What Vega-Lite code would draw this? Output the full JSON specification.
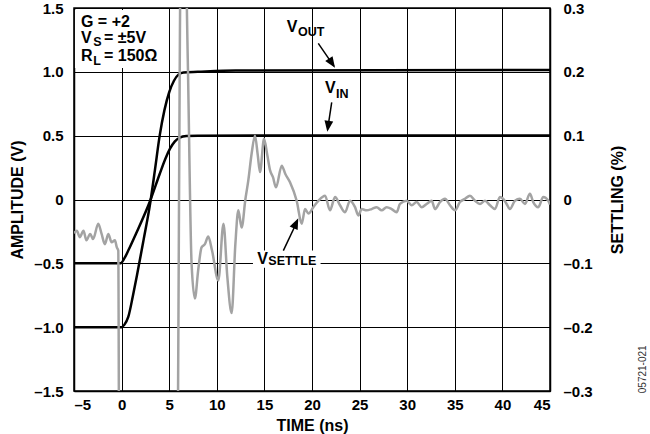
{
  "$schema": "https://vega.github.io/schema/vega-lite/v6.json",
  "width": 476,
  "height": 383,
  "autosize": {"type": "none"},
  "padding": {"left": 74, "top": 8, "right": 100, "bottom": 43},
  "background": "white",
  "config": {
    "font": "Liberation Sans",
    "view": {"stroke": "black", "strokeWidth": 1.5},
    "axis": {
      "labelFont": "Liberation Sans", "labelFontWeight": "bold", "labelFontSize": 15, "labelColor": "black",
      "titleFont": "Liberation Sans", "titleFontWeight": "bold", "titleFontSize": 16, "titleColor": "black",
      "domainColor": "black", "domainWidth": 1.5, "ticks": false, "tickSize": 0,
      "gridColor": "black", "gridWidth": 1, "gridOpacity": 1
    },
    "text": {"font": "Liberation Sans", "fontWeight": "bold", "color": "black"}
  },
  "layer": [
    {
      "layer": [
        {
          "data": {"values": [
            {"series": "VOUT", "t": -5, "v": -1.0}, {"series": "VOUT", "t": 0, "v": -1.0}, {"series": "VOUT", "t": 0.3, "v": -0.98},
            {"series": "VOUT", "t": 0.7, "v": -0.92}, {"series": "VOUT", "t": 1.2, "v": -0.75}, {"series": "VOUT", "t": 1.6, "v": -0.6},
            {"series": "VOUT", "t": 2.3, "v": -0.32}, {"series": "VOUT", "t": 3.0, "v": -0.03}, {"series": "VOUT", "t": 3.5, "v": 0.23},
            {"series": "VOUT", "t": 4.0, "v": 0.5}, {"series": "VOUT", "t": 4.5, "v": 0.7}, {"series": "VOUT", "t": 5.0, "v": 0.84},
            {"series": "VOUT", "t": 5.5, "v": 0.93}, {"series": "VOUT", "t": 6.0, "v": 0.98}, {"series": "VOUT", "t": 6.5, "v": 0.995},
            {"series": "VOUT", "t": 8, "v": 1.0}, {"series": "VOUT", "t": 12, "v": 1.01}, {"series": "VOUT", "t": 45, "v": 1.015},
            {"series": "VIN", "t": -5, "v": -0.5}, {"series": "VIN", "t": -0.1, "v": -0.5}, {"series": "VIN", "t": 0.3, "v": -0.46},
            {"series": "VIN", "t": 0.7, "v": -0.4}, {"series": "VIN", "t": 1.5, "v": -0.27}, {"series": "VIN", "t": 3.0, "v": -0.01},
            {"series": "VIN", "t": 4.0, "v": 0.2}, {"series": "VIN", "t": 4.6, "v": 0.32}, {"series": "VIN", "t": 5.1, "v": 0.4},
            {"series": "VIN", "t": 5.6, "v": 0.455}, {"series": "VIN", "t": 6.1, "v": 0.485}, {"series": "VIN", "t": 6.8, "v": 0.497},
            {"series": "VIN", "t": 8, "v": 0.5}, {"series": "VIN", "t": 45, "v": 0.502}
          ]},
          "mark": {"type": "line", "color": "black", "strokeWidth": 2.5, "interpolate": "monotone"},
          "encoding": {
            "x": {"field": "t", "type": "quantitative", "scale": {"domain": [-5, 45], "nice": false},
              "axis": {"values": [-5, 0, 5, 10, 15, 20, 25, 30, 35, 40, 45], "grid": true, "title": "TIME (ns)",
                "labelExpr": "datum.value < 0 ? '–' + format(-datum.value, 'd') : format(datum.value, 'd')",
                "labelPadding": 6, "titlePadding": 5}},
            "y": {"field": "v", "type": "quantitative", "scale": {"domain": [-1.5, 1.5], "nice": false},
              "axis": {"values": [-1.5, -1.0, -0.5, 0, 0.5, 1.0, 1.5], "grid": true, "title": "AMPLITUDE (V)",
                "labelExpr": "datum.value == 0 ? '0' : (datum.value < 0 ? '–' + format(-datum.value, '.1f') : format(datum.value, '.1f'))",
                "labelPadding": 11, "titlePadding": 8}},
            "detail": {"field": "series"}
          }
        },
        {
          "data": {"values": [{"t": -4.9, "t2": 4.5, "v": 1.03, "v2": 1.485}, {"t": 13.8, "t2": 20.9, "v": -0.4, "v2": -0.535}]},
          "mark": {"type": "rect", "fill": "white"},
          "encoding": {
            "x": {"field": "t", "type": "quantitative"}, "x2": {"field": "t2"},
            "y": {"field": "v", "type": "quantitative"}, "y2": {"field": "v2"}
          }
        },
        {
          "data": {"values": [
            {"label": "G = +2", "t": -4.27, "v": 1.351},
            {"label": "V", "t": -4.27, "v": 1.226},
            {"label": "= ±5V", "t": -1.85, "v": 1.226},
            {"label": "R", "t": -4.27, "v": 1.085},
            {"label": "= 150Ω", "t": -1.85, "v": 1.085},
            {"label": "V", "t": 17.34, "v": 1.31},
            {"label": "V", "t": 21.37, "v": 0.832},
            {"label": "V", "t": 14.25, "v": -0.505}
          ]},
          "mark": {"type": "text", "align": "left", "baseline": "alphabetic", "fontSize": 16},
          "encoding": {
            "x": {"field": "t", "type": "quantitative"},
            "y": {"field": "v", "type": "quantitative"},
            "text": {"field": "label"}
          }
        },
        {
          "data": {"values": [
            {"label": "S", "t": -2.98, "v": 1.2},
            {"label": "L", "t": -2.98, "v": 1.055},
            {"label": "OUT", "t": 18.53, "v": 1.283},
            {"label": "IN", "t": 22.53, "v": 0.793},
            {"label": "SETTLE", "t": 15.41, "v": -0.513}
          ]},
          "mark": {"type": "text", "align": "left", "baseline": "alphabetic", "fontSize": 12.5},
          "encoding": {
            "x": {"field": "t", "type": "quantitative"},
            "y": {"field": "v", "type": "quantitative"},
            "text": {"field": "label"}
          }
        },
        {
          "data": {"values": [
            {"arrow": "VOUT", "t": 20.66, "v": 1.223, "t2": 22.3, "v2": 1.045},
            {"arrow": "VIN", "t": 22.07, "v": 0.761, "t2": 21.64, "v2": 0.55},
            {"arrow": "VSETTLE", "t": 16.99, "v": -0.401, "t2": 18.45, "v2": -0.17}
          ]},
          "mark": {"type": "rule", "color": "black", "strokeWidth": 1.5},
          "encoding": {
            "x": {"field": "t", "type": "quantitative"}, "x2": {"field": "t2"},
            "y": {"field": "v", "type": "quantitative"}, "y2": {"field": "v2"}
          }
        },
        {
          "data": {"values": [
            {"arrow": "VOUT", "t": 22.42, "v": 1.032, "dir": 146},
            {"arrow": "VIN", "t": 21.61, "v": 0.531, "dir": 188},
            {"arrow": "VSETTLE", "t": 18.56, "v": -0.147, "dir": 25}
          ]},
          "mark": {"type": "point", "shape": "M0,0L-0.4,1L0.4,1Z", "filled": true, "color": "black", "opacity": 1, "size": 484, "strokeWidth": 0},
          "encoding": {
            "x": {"field": "t", "type": "quantitative"},
            "y": {"field": "v", "type": "quantitative"},
            "angle": {"field": "dir", "type": "quantitative", "scale": null}
          }
        },
        {
          "data": {"values": [{"label": "05721-021", "t": 54.8, "v": -1.33}]},
          "mark": {"type": "text", "align": "center", "baseline": "middle", "angle": 270, "fontSize": 10, "fontWeight": "normal", "color": "#333333"},
          "encoding": {
            "x": {"field": "t", "type": "quantitative"},
            "y": {"field": "v", "type": "quantitative"},
            "text": {"field": "label"}
          }
        }
      ]
    },
    {
      "data": {"values": [
        {"t": -5.0, "s": -0.053}, {"t": -4.7, "s": -0.049}, {"t": -4.4, "s": -0.059}, {"t": -4.0, "s": -0.049}, {"t": -3.7, "s": -0.064},
        {"t": -3.3, "s": -0.054}, {"t": -3.0, "s": -0.062}, {"t": -2.45, "s": -0.038}, {"t": -2.1, "s": -0.054}, {"t": -1.75, "s": -0.07},
        {"t": -1.4, "s": -0.054}, {"t": -1.05, "s": -0.067}, {"t": -0.7, "s": -0.064}, {"t": -0.5, "s": -0.075}, {"t": -0.35, "s": -0.08},
        {"t": -0.2, "s": -0.7}, {"t": 5.7, "s": -0.7}, {"t": 6.3, "s": 0.5}, {"t": 6.55, "s": 0.5}, {"t": 6.95, "s": 0.22},
        {"t": 7.35, "s": -0.1}, {"t": 7.7, "s": -0.155}, {"t": 8.05, "s": -0.11}, {"t": 8.4, "s": -0.075}, {"t": 8.75, "s": -0.07},
        {"t": 9.1, "s": -0.058}, {"t": 9.5, "s": -0.08}, {"t": 10.16, "s": -0.127}, {"t": 10.7, "s": -0.038}, {"t": 11.1, "s": -0.12},
        {"t": 11.56, "s": -0.178}, {"t": 11.95, "s": -0.07}, {"t": 12.26, "s": -0.017}, {"t": 12.61, "s": -0.044}, {"t": 13.0, "s": 0.0},
        {"t": 13.31, "s": 0.03}, {"t": 13.66, "s": 0.072}, {"t": 14.01, "s": 0.1}, {"t": 14.3, "s": 0.07}, {"t": 14.54, "s": 0.043},
        {"t": 14.96, "s": 0.095}, {"t": 15.3, "s": 0.07}, {"t": 15.59, "s": 0.046}, {"t": 15.9, "s": 0.035}, {"t": 16.22, "s": 0.019},
        {"t": 16.82, "s": 0.053}, {"t": 17.2, "s": 0.04}, {"t": 17.69, "s": 0.027}, {"t": 18.39, "s": -0.002}, {"t": 18.92, "s": -0.038},
        {"t": 19.27, "s": -0.015}, {"t": 19.62, "s": -0.022}, {"t": 20.14, "s": -0.012}, {"t": 20.67, "s": -0.002}, {"t": 21.37, "s": 0.006},
        {"t": 21.89, "s": -0.017}, {"t": 22.42, "s": 0.004}, {"t": 22.94, "s": -0.009}, {"t": 23.47, "s": -0.02}, {"t": 23.99, "s": -0.002},
        {"t": 24.52, "s": -0.012}, {"t": 24.87, "s": -0.025}, {"t": 25.22, "s": -0.015}, {"t": 25.74, "s": -0.017}, {"t": 26.27, "s": -0.015},
        {"t": 26.79, "s": -0.012}, {"t": 27.32, "s": -0.017}, {"t": 27.84, "s": -0.012}, {"t": 28.37, "s": -0.015}, {"t": 28.89, "s": -0.02},
        {"t": 29.24, "s": -0.007}, {"t": 29.94, "s": -0.002}, {"t": 30.47, "s": -0.009}, {"t": 30.99, "s": -0.004}, {"t": 31.52, "s": -0.012},
        {"t": 32.04, "s": -0.007}, {"t": 32.57, "s": -0.002}, {"t": 32.92, "s": -0.015}, {"t": 33.44, "s": -0.004}, {"t": 33.97, "s": 0.001},
        {"t": 34.49, "s": -0.009}, {"t": 35.02, "s": -0.017}, {"t": 35.54, "s": -0.004}, {"t": 36.07, "s": 0.001}, {"t": 36.59, "s": 0.006},
        {"t": 37.12, "s": -0.002}, {"t": 37.64, "s": -0.007}, {"t": 38.17, "s": -0.002}, {"t": 38.69, "s": -0.009}, {"t": 39.22, "s": -0.015},
        {"t": 39.74, "s": 0.004}, {"t": 40.09, "s": 0.001}, {"t": 40.44, "s": -0.007}, {"t": 40.79, "s": -0.015}, {"t": 41.32, "s": -0.002},
        {"t": 41.84, "s": 0.001}, {"t": 42.37, "s": -0.007}, {"t": 42.89, "s": 0.009}, {"t": 43.24, "s": -0.004}, {"t": 43.77, "s": -0.012},
        {"t": 44.29, "s": 0.004}, {"t": 44.82, "s": -0.002}, {"t": 45.0, "s": -0.008}
      ]},
      "mark": {"type": "line", "color": "#a3a3a3", "strokeWidth": 2.5, "clip": true, "interpolate": "monotone"},
      "encoding": {
        "x": {"field": "t", "type": "quantitative"},
        "y": {"field": "s", "type": "quantitative", "scale": {"domain": [-0.3, 0.3], "nice": false},
          "axis": {"orient": "right", "values": [-0.3, -0.2, -0.1, 0, 0.1, 0.2, 0.3], "grid": false, "title": "SETTLING (%)",
            "titleAngle": -90, "labelPadding": 13, "titlePadding": 33,
            "labelExpr": "datum.value == 0 ? '0' : (datum.value < 0 ? '–' + format(-datum.value, '.1f') : format(datum.value, '.1f'))"}}
      }
    }
  ],
  "resolve": {"scale": {"y": "independent"}}
}
